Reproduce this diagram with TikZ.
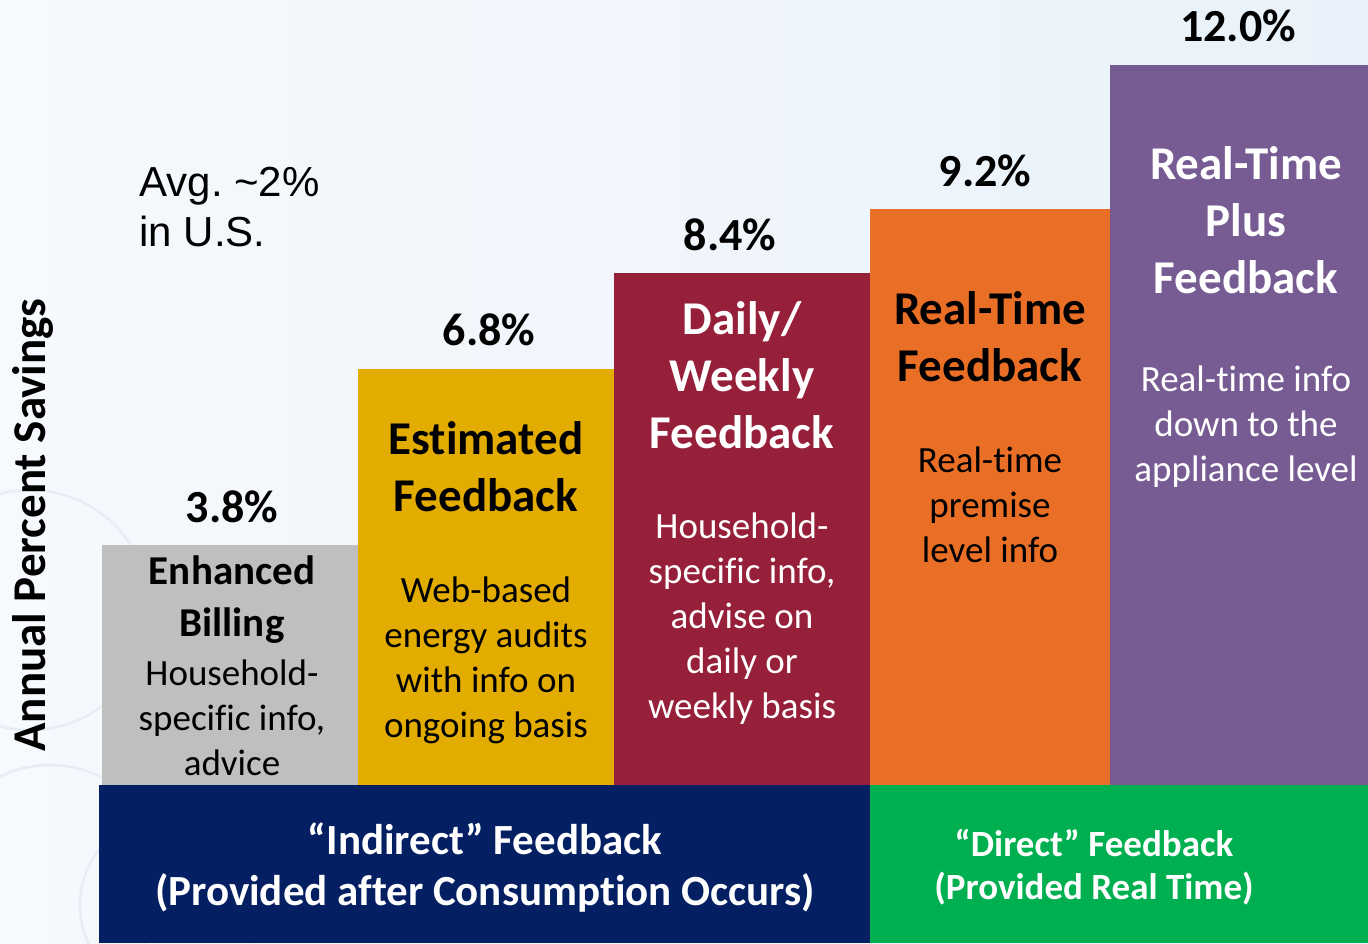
\documentclass[tikz,border=0pt]{standalone}
\usepackage{fontspec}
\setmainfont{Carlito}[RawFeature={-liga;-calt;-clig}]
\newfontfamily\arialfont{Liberation Sans}
\frenchspacing

\definecolor{bgleft}{RGB}{246,249,253}
\definecolor{bgright}{RGB}{233,242,250}
\definecolor{ringcol}{RGB}{230,237,245}
\definecolor{billgray}{RGB}{191,191,191}
\definecolor{estgold}{RGB}{226,172,0}
\definecolor{dailyred}{RGB}{150,32,58}
\definecolor{rtorange}{RGB}{233,111,38}
\definecolor{pluspurple}{RGB}{118,92,147}
\definecolor{indnavy}{RGB}{4,32,99}
\definecolor{dirgreen}{RGB}{0,176,80}

\tikzset{
  pct/.style={inner sep=0pt, font=\fontsize{23}{27}\selectfont\bfseries},
  bartitle/.style={inner sep=0pt, align=center, font=\fontsize{23.5}{28.5}\selectfont\bfseries},
  bartext/.style={inner sep=0pt, align=center, font=\fontsize{18.5}{22.5}\selectfont},
}

\begin{document}
\begin{tikzpicture}[x=0.5pt, y=-0.5pt]
            % background
            \fill[left color=bgleft, right color=bgright] (0,0) rectangle (1368,943);
            \useasboundingbox (0,0) rectangle (1368,943);
            \begin{scope}
              \clip (0,0) rectangle (1368,943);
              \draw[ringcol, line width=1.2pt] (30,610) circle (120);
              \draw[ringcol, line width=1.2pt] (50,880) circle (115);
              \draw[ringcol, line width=1.2pt] (170,905) circle (90);
            \end{scope}
            % bars
            \fill[billgray] (102,545) rectangle (358,786);
            \fill[estgold] (358,369) rectangle (614,786);
            \fill[dailyred] (614,273) rectangle (870,786);
            \fill[rtorange] (870,209) rectangle (1110,786);
            \fill[pluspurple] (1110,65) rectangle (1368,786);
            \fill[indnavy] (99,785) rectangle (870,943);
            \fill[dirgreen] (870,785) rectangle (1368,943);
            % percentages
            \node[pct] (p1) at (232,507) {3.8\%};
            \node[pct] (p2) at (489,330) {6.8\%};
            \node[pct] (p3) at (730,235) {8.4\%};
            \node[pct] (p4) at (985,171) {9.2\%};
            \node[pct] (p5) at (1238,26) {12.0\%};
            % bar titles
            \node[bartitle, font=\fontsize{20.5}{26}\selectfont\bfseries] (billing) at (232,600) {Enhanced\\Billing};
            \node[bartitle] (estim) at (486,467) {Estimated\\Feedback};
            \node[bartitle, white] (daily) at (742,375) {Daily/\\Weekly\\Feedback};
            \node[bartitle] (rtime) at (990,337) {Real-Time\\Feedback};
            \node[bartitle, white] (rplus) at (1246,220) {Real-Time\\Plus\\Feedback};
            % bar texts
            \node[bartext] (billtxt) at (232,718) {Household-\\specific info,\\advice};
            \node[bartext] (esttxt) at (486,660) {Web-based\\energy audits\\with info on\\ongoing basis};
            \node[bartext, white] (dailytxt) at (742,619) {Household-\\specific info,\\advise on\\daily or\\weekly basis};
            \node[bartext] (rttxt) at (990,505) {Real-time\\premise\\level info};
            \node[bartext, white] (plustxt) at (1246,427) {Real-time info\\down to the\\appliance level};
            % groups
            \node[inner sep=0pt, align=center, white, font=\fontsize{21.5}{25.5}\selectfont\bfseries] (indirect) at (485,867) {“Indirect” Feedback\\(Provided after Consumption Occurs)};
            \node[inner sep=0pt, align=center, white, font=\fontsize{18.5}{21.5}\selectfont\bfseries] (direct) at (1094,867) {“Direct” Feedback\\(Provided Real Time)};
            % axis label and note
            \node[inner sep=0pt, rotate=90, font=\fontsize{23.5}{28}\selectfont\bfseries] (ylab) at (33,525) {Annual Percent Savings};
            \node[inner sep=0pt, anchor=west, align=left, font=\arialfont\fontsize{21}{25}\selectfont] (avg) at (139,207) {Avg. \textasciitilde2\%\\in U.S.};
        \end{tikzpicture}
\end{document}
